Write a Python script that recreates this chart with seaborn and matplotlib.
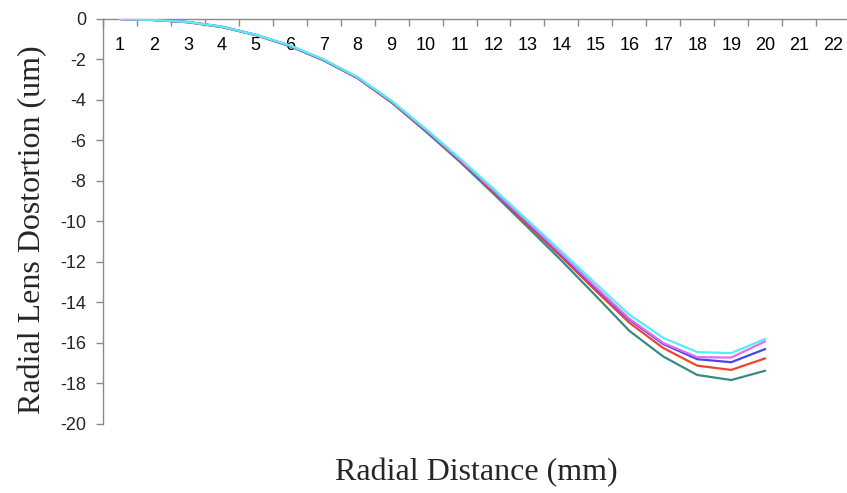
import matplotlib
matplotlib.use("Agg")
import matplotlib.pyplot as plt
import seaborn as sns
import pandas as pd
from matplotlib.ticker import FixedLocator

# ---- data ----
radial_mm = list(range(1, 21))
tick_labels = [str(i) for i in range(1, 23)]
series_names = ["Cyan", "Violet", "Blue", "Red", "Teal"]
cyan_vals = [0, -0.05, -0.15, -0.38, -0.78, -1.30, -2.00, -2.87, -4.04, -5.42,
             -6.87, -8.38, -9.93, -11.48, -13.05, -14.60, -15.75, -16.45, -16.50, -15.80]
violet_vals = [0, -0.05, -0.15, -0.38, -0.78, -1.31, -2.01, -2.89, -4.07, -5.46,
               -6.93, -8.47, -10.03, -11.60, -13.22, -14.80, -16.00, -16.70, -16.72, -15.92]
blue_vals = [0, -0.05, -0.15, -0.38, -0.78, -1.32, -2.02, -2.90, -4.08, -5.48,
             -6.95, -8.50, -10.07, -11.65, -13.28, -14.85, -16.05, -16.80, -16.95, -16.30]
red_vals = [0, -0.05, -0.16, -0.39, -0.79, -1.33, -2.03, -2.91, -4.10, -5.50,
            -6.98, -8.55, -10.15, -11.75, -13.40, -15.00, -16.25, -17.12, -17.33, -16.76]
teal_vals = [0, -0.05, -0.16, -0.40, -0.80, -1.34, -2.05, -2.93, -4.13, -5.55,
             -7.04, -8.63, -10.27, -11.93, -13.65, -15.40, -16.67, -17.58, -17.83, -17.37]
y_ticks = list(range(-20, 1, 2))

colors = {"Cyan": "#55eef5", "Violet": "#e36cf2", "Blue": "#4646ee",
          "Red": "#f0452d", "Teal": "#3a8a82"}

rows = []
for name, vals in zip(series_names, [cyan_vals, violet_vals, blue_vals, red_vals, teal_vals]):
    for x, v in zip(radial_mm, vals):
        rows.append({"x": x, "y": v, "series": name})
df = pd.DataFrame(rows)

sns.set_style("white")
plt.rcParams["axes.unicode_minus"] = False
plt.rcParams["font.family"] = ["Liberation Sans", "DejaVu Sans"]

fig = plt.figure(figsize=(8.47, 4.93), dpi=100)
ax = fig.add_axes([0.1216, 0.14, 0.882, 0.8215])

# draw in reverse so cyan ends on top
sns.lineplot(data=df, x="x", y="y", hue="series",
             hue_order=series_names[::-1], palette=colors,
             linewidth=1.6, ax=ax, legend=False, sort=False)

ax.set_xlim(0.5, 22.5)
ax.set_ylim(-20, 0)

for s in ["right", "top"]:
    ax.spines[s].set_visible(False)
ax.spines["bottom"].set_position(("data", 0))
ax.spines["bottom"].set_color("#8a8a8a")
ax.spines["left"].set_color("#8a8a8a")
ax.spines["bottom"].set_linewidth(1.0)
ax.spines["left"].set_linewidth(1.0)
ax.spines["bottom"].set_zorder(0)

ax.xaxis.set_major_locator(FixedLocator(list(range(1, 23))))
ax.set_xticklabels(tick_labels)
ax.xaxis.set_minor_locator(FixedLocator([i + 0.5 for i in range(0, 23)]))
ax.tick_params(axis="x", which="major", length=0, pad=13, labelsize=13,
               bottom=True, labelcolor="black")
ax.tick_params(axis="x", which="minor", length=5, width=1.0, color="#8a8a8a",
               direction="out", bottom=True)

ax.set_yticks(y_ticks)
ax.set_yticklabels([str(v) for v in y_ticks])
ax.tick_params(axis="y", which="major", length=5, width=1.0, color="#8a8a8a",
               direction="out", left=True, pad=7, labelsize=13)

ax.set_xlabel("Radial Distance (mm)", family=["Liberation Serif", "DejaVu Serif"], fontsize=23)
ax.set_ylabel("Radial Lens Dostortion (um)", family=["Liberation Serif", "DejaVu Serif"], fontsize=23)
ax.xaxis.set_label_coords(0.5, -0.085)
ax.yaxis.set_label_coords(-0.075, 0.48)

fig.savefig("out.png", dpi=100)
